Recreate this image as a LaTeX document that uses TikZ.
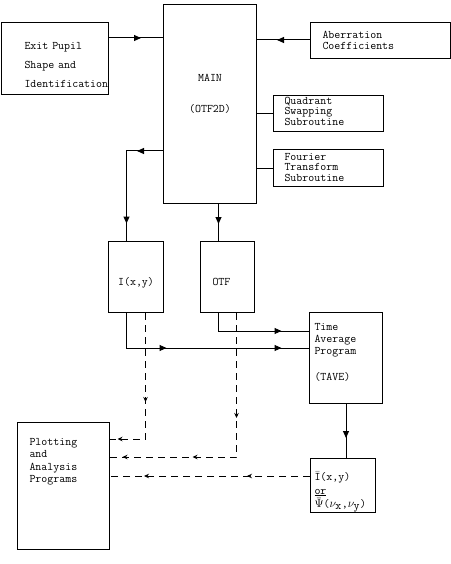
\documentclass[tikz,border=0pt]{standalone}
\usepackage{fontspec}
\usetikzlibrary{arrows.meta,decorations.markings}

\begin{document}
\begin{tikzpicture}[
  x=1pt, y=-1pt,
  box/.style={draw,line width=1pt,anchor=north west,align=left,inner ysep=0pt,
              font=\ttfamily\fontsize{11.6}{12}\selectfont},
  line/.style={line width=1pt},
  dline/.style={line width=1pt,dash pattern=on 7pt off 5pt},
  midtip/.style={postaction={decorate,decoration={markings,
              mark=at position #1 with {\arrow{Triangle[length=7pt,width=6pt]}}}}},
  dashtip/.style={postaction={decorate,decoration={markings,
              mark=at position #1 with {\arrow{Stealth[length=5pt,width=4.5pt]}}}}}
]
\useasboundingbox (0,0) rectangle (450,564);
\node[box,inner xsep=23pt,text width=61pt,text height=27pt,text depth=45pt,
      font=\ttfamily\fontsize{11.6}{19}\selectfont] (pupil) at (1,22)
  {Exit Pupil\\Shape and\\\mbox{Identification}};
\node[box,align=center,inner xsep=0pt,text width=93pt,text height=77pt,text depth=122pt,
      font=\ttfamily\fontsize{11.6}{31}\selectfont] (main) at (163,4) {MAIN\\(OTF2D)};
\node[box,inner xsep=12pt,text width=115.5pt,text height=16pt,text depth=20pt,
      font=\ttfamily\fontsize{11.6}{11}\selectfont] (aberr) at (310,22)
  {Aberration\\Coefficients};
\node[box,inner xsep=11pt,text width=88pt,text height=9pt,text depth=27pt,
      font=\ttfamily\fontsize{11.6}{10.5}\selectfont] (quad) at (273,95)
  {Quadrant\\Swapping\\Subroutine};
\node[box,inner xsep=11pt,text width=88pt,text height=11pt,text depth=26pt,
      font=\ttfamily\fontsize{11.6}{10.5}\selectfont] (fourier) at (273,149)
  {Fourier\\Transform\\Subroutine};
\node[box,align=center,inner xsep=0pt,text width=55pt,text height=44pt,text depth=27pt]
  (ixy) at (108,241) {I(x,y)};
\node[box,inner xsep=12pt,text width=30pt,text height=44pt,text depth=27pt]
  (otf) at (200,241) {OTF};
\node[box,inner xsep=5pt,text width=63pt,text height=18pt,text depth=73pt] (tave) at (309,312)
  {Time\\Average\\Program\\[14pt](TAVE)};
\node[box,inner xsep=4pt,text width=57pt,text height=22pt,text depth=32pt,
      font=\ttfamily\fontsize{11.6}{13.5}\selectfont] (result) at (310,458)
  {$\bar{\hbox{I}}$(x,y)\\\underline{or}\\\mbox{$\bar\Psi$($\nu_{\hbox{x}}$,$\nu_{\hbox{y}}$)}};
\node[box,inner xsep=12pt,text width=68pt,text height=23pt,text depth=104pt,
      font=\ttfamily\fontsize{11.6}{12.3}\selectfont] (plot) at (17,422)
  {Plotting\\and\\Analysis\\Programs};

\draw[line,midtip=32pt] ([yshift=-16pt]pupil.north east) coordinate (c1) -- (c1 -| main.west);
\draw[line,midtip=33pt] ([yshift=-18pt]aberr.north west) coordinate (c2) -- (c2 -| main.east);
\draw[line] (quad.west) -- (quad.west -| main.east);
\draw[line] (fourier.west) -- (fourier.west -| main.east);
\draw[line,midtip=26pt,midtip=109pt] ([yshift=-147pt]main.north west) -| ([xshift=-9.5pt]ixy.north);
\draw[line,midtip=20pt] ([xshift=8.5pt]main.south) -- ([xshift=-9pt]otf.north);
\draw[line,midtip=81pt] ([xshift=-9pt]otf.south) |- ([yshift=-19pt]tave.north west);
\draw[line,midtip=75pt,midtip=190pt] ([xshift=-9.5pt]ixy.south) |- ([yshift=-36pt]tave.north west);
\draw[line,midtip=34pt] (tave.south) -- (tave.south |- result.north);
\draw[dline,dashtip=89pt,dashtip=154pt] ([xshift=9.5pt]ixy.south) |- ([yshift=-17pt]plot.north east);
\draw[dline,dashtip=105pt,dashtip=188pt,dashtip=258pt] ([xshift=9pt]otf.south) |- ([yshift=-35pt]plot.north east);
\draw[dline,dashtip=63pt,dashtip=166pt] ([yshift=-18pt]result.north west) coordinate (c12) -- (c12 -| plot.east);
\end{tikzpicture}
\end{document}
